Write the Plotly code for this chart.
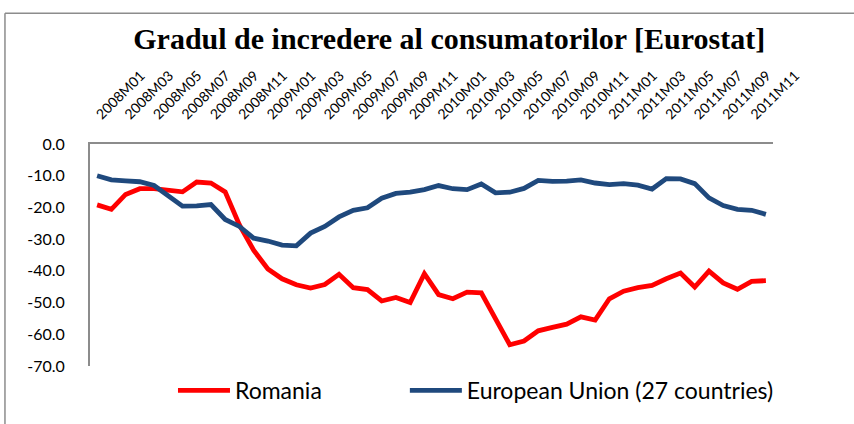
import plotly.graph_objects as go

# monthly categories 2008M01 .. 2011M12
months = [f"{y}M{m:02d}" for y in (2008, 2009, 2010, 2011) for m in range(1, 13)]

romania = [-19.2, -20.6, -15.9, -14.1, -14.1, -14.6, -15.1, -12.0, -12.3, -15.1, -25.5, -33.5,
           -39.4, -42.5, -44.4, -45.4, -44.3, -41.1, -45.3, -45.9, -49.5, -48.4, -50.0, -40.9,
           -47.5, -48.8, -46.7, -46.9, -55.1, -63.3, -62.1, -58.9, -57.8, -56.8, -54.5, -55.5,
           -48.8, -46.4, -45.3, -44.6, -42.5, -40.7, -45.1, -40.1, -43.8, -45.8, -43.3, -43.1]

eu27 = [-10.0, -11.3, -11.6, -11.9, -13.1, -16.5, -19.6, -19.5, -19.1, -23.8, -26.0, -29.7,
        -30.6, -31.9, -32.1, -28.1, -26.0, -23.0, -20.9, -20.1, -17.1, -15.6, -15.2, -14.4,
        -13.1, -14.1, -14.4, -12.6, -15.4, -15.2, -14.0, -11.5, -11.8, -11.7, -11.3, -12.3,
        -12.8, -12.5, -13.0, -14.2, -10.9, -11.0, -12.5, -17.0, -19.4, -20.6, -20.9, -22.2]

y_ticks = [0, -10, -20, -30, -40, -50, -60, -70]
x_ticks = months[::2]

fig = go.Figure()
fig.add_trace(go.Scatter(x=months, y=romania, name="Romania", mode="lines",
                         line=dict(color="#FF0000", width=4.8), legend="legend"))
fig.add_trace(go.Scatter(x=months, y=eu27, name="European Union (27 countries)", mode="lines",
                         line=dict(color="#1F497D", width=4.8), legend="legend2"))

leg_font = dict(family="Lato", size=23, color="black")

fig.update_layout(
    width=854, height=424,
    margin=dict(l=90, r=81, t=144, b=56),
    paper_bgcolor="white", plot_bgcolor="white",
    title=dict(text="<b>Gradul de incredere al consumatorilor [Eurostat]</b>",
               x=0.526, xref="container", xanchor="center",
               y=0.91, yref="container", yanchor="middle",
               font=dict(family="Liberation Serif", size=30, color="black")),
    showlegend=True,
    legend=dict(orientation="h", x=0.1215, xanchor="left", y=-0.11, yanchor="middle",
                itemwidth=52, font=leg_font, bgcolor="rgba(0,0,0,0)"),
    legend2=dict(orientation="h", x=0.461, xanchor="left", y=-0.11, yanchor="middle",
                 itemwidth=52, font=leg_font, bgcolor="rgba(0,0,0,0)"),
    font=dict(family="Lato", color="black"),
)

fig.update_xaxes(type="category", side="top", range=[-0.5, 47.5], automargin=False,
                 tickmode="array", tickvals=x_ticks, ticktext=x_ticks,
                 tickangle=-45, tickfont=dict(family="Lato", size=14, color="black"),
                 showline=True, linecolor="#8c8c8c", linewidth=2,
                 showgrid=False, zeroline=False, ticks="", ticklabelstandoff=14)

fig.update_yaxes(range=[-70, 0], automargin=False, tickmode="array", tickvals=y_ticks,
                 ticktext=[f"{v:.1f}" for v in y_ticks],
                 tickfont=dict(family="Lato", size=16, color="black"),
                 showline=True, linecolor="#8c8c8c", linewidth=2,
                 showgrid=False, zeroline=False, ticks="", ticklabelstandoff=20)

# outer chart frame (left and top edges)
fig.add_shape(type="line", xref="paper", yref="paper", x0=-0.1245, x1=-0.1245, y0=-0.4, y1=1.589,
              line=dict(color="#8c8c8c", width=1.5))
fig.add_shape(type="line", xref="paper", yref="paper", x0=-0.1245, x1=1.2, y0=1.589, y1=1.589,
              line=dict(color="#8c8c8c", width=1.5))

# page body has a default 8px margin, drop it so the figure sits at the origin
fig.write_html("out.html", config={"displayModeBar": False},
               post_script="document.body.style.margin='0';")
